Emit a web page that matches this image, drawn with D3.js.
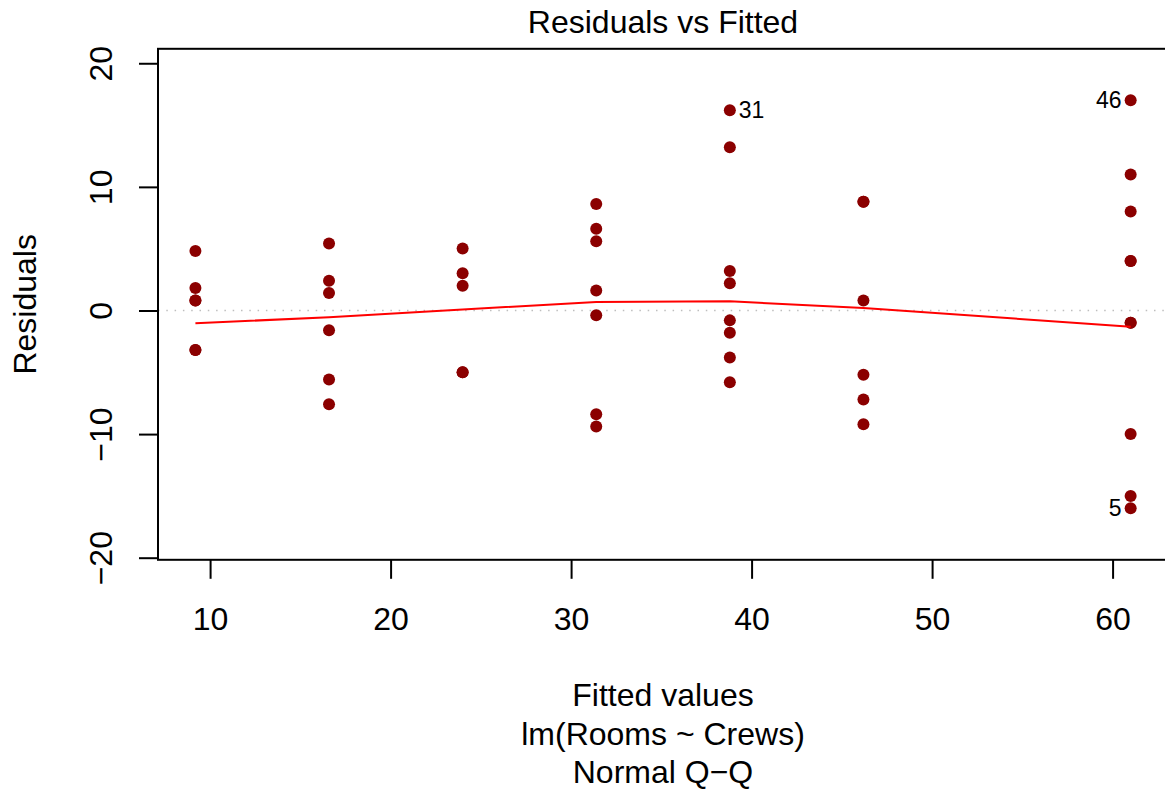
<!DOCTYPE html>
<html>
<head>
<meta charset="utf-8">
<script src="https://cdn.jsdelivr.net/npm/d3@7"></script>
<style>
  body { margin: 0; background: #fff; }
  svg { display: block; font-family: "Liberation Sans", Arial, Helvetica, sans-serif; }
</style>
</head>
<body>
<div id="chart"></div>
<script>
// fitted values of lm(Rooms ~ Crews), one per crew size
const crews = [2, 4, 6, 8, 10, 12, 16]
const fittedValues = [9.187, 16.589, 23.991, 31.393, 38.795, 46.197, 61.001]

// residuals, one array per fitted value
const residuals2 = [4.81, 1.81, 0.81, 0.81, -3.19, -3.19]
const residuals4 = [5.41, 2.41, 1.41, -1.59, -5.59, -7.59]
const residuals6 = [5.01, 3.01, 2.01, -4.99, -4.99]
const residuals8 = [8.61, 6.61, 5.61, 1.61, -0.39, -8.39, -9.39]
const residuals10 = [16.2, 13.2, 3.2, 2.2, -0.8, -1.8, -3.8, -5.8]
const residuals12 = [8.8, 8.8, 0.8, -5.2, -7.2, -9.2]
const residuals16 = [17.0, 11.0, 8.0, 4.0, 4.0, -1.0, -1.0, -10.0, -15.0, -16.0]
const residualGroups = [residuals2, residuals4, residuals6, residuals8, residuals10, residuals12, residuals16]

// lowess smooth at each fitted value
const smoothValues = [-1.04, -0.54, 0.08, 0.69, 0.74, 0.2, -1.31]

// labelled observations
const idGroup = [4, 6, 6]
const idResidual = [16.2, 17.0, -16.0]
const idText = ['31', '46', '5']
const idSide = ['right', 'left', 'left']

const xTicks = [10, 20, 30, 40, 50, 60]
const yTicks = [-20, -10, 0, 10, 20]

const width = 1165
const height = 793
const box = {left: 158, right: 1168, top: 48.8, bottom: 559.8}
const FONT = 32
const ID_FONT = 23
const POINT_COLOR = '#8b0000'

const x = d3.scaleLinear().domain([7.114, 63.07]).range([box.left, box.right])
const y = d3.scaleLinear().domain([-20.17, 21.17]).range([box.bottom, box.top])

const points = []
residualGroups.forEach((g, i) => g.forEach(r => points.push({fit: fittedValues[i], res: r})))

const svg = d3.select('#chart')
  .append('svg')
  .attr('width', width)
  .attr('height', height)

// dotted zero line
svg.append('line')
  .attr('x1', box.left).attr('x2', box.right)
  .attr('y1', y(0)).attr('y2', y(0))
  .attr('stroke', '#bebebe').attr('stroke-width', 1.5)
  .attr('stroke-dasharray', '1.5,6.8')

// points
svg.selectAll('circle.pt')
  .data(points)
  .enter()
  .append('circle')
  .attr('class', 'pt')
  .attr('cx', d => x(d.fit))
  .attr('cy', d => y(d.res))
  .attr('r', 6)
  .attr('fill', POINT_COLOR)

// smooth
const line = d3.line()
  .x((d, i) => x(fittedValues[i]))
  .y(d => y(d))

svg.append('path')
  .attr('d', line(smoothValues))
  .attr('fill', 'none')
  .attr('stroke', '#ff0000')
  .attr('stroke-width', 2)

// id labels
svg.selectAll('text.id')
  .data(idText)
  .enter()
  .append('text')
  .attr('class', 'id')
  .attr('x', (d, i) => x(fittedValues[idGroup[i]]) + (idSide[i] === 'right' ? 9 : -9))
  .attr('y', (d, i) => y(idResidual[i]) + 8)
  .attr('text-anchor', (d, i) => idSide[i] === 'right' ? 'start' : 'end')
  .attr('font-size', ID_FONT)
  .attr('fill', '#000')
  .text(d => d)

// box
svg.append('rect')
  .attr('x', box.left).attr('y', box.top)
  .attr('width', box.right - box.left).attr('height', box.bottom - box.top)
  .attr('fill', 'none').attr('stroke', '#000').attr('stroke-width', 2)

// axes
const fmt = d => d < 0 ? '\u2212' + Math.abs(d) : String(d)

svg.append('g')
  .attr('transform', `translate(0, ${box.bottom})`)
  .call(d3.axisBottom(x).tickValues(xTicks).tickSize(19).tickFormat(fmt))
  .call(g => {
    g.select('.domain').remove()
    g.selectAll('line').attr('stroke-width', 2)
    g.selectAll('text')
      .attr('y', 70).attr('dy', null)
      .attr('font-size', FONT).attr('fill', '#000')
      .attr('font-family', 'inherit')
  })

svg.append('g')
  .attr('transform', `translate(${box.left}, 0)`)
  .call(d3.axisLeft(y).tickValues(yTicks).tickSize(19).tickFormat(fmt))
  .call(g => {
    g.select('.domain').remove()
    g.selectAll('line').attr('stroke-width', 2)
    g.selectAll('text')
      .attr('x', null).attr('dy', null)
      .attr('text-anchor', 'middle')
      .attr('transform', 'translate(-46, 0) rotate(-90)')
      .attr('font-size', FONT).attr('fill', '#000')
      .attr('font-family', 'inherit')
  })

// titles
const cx = (box.left + box.right) / 2
svg.append('text')
  .attr('x', cx).attr('y', 33)
  .attr('text-anchor', 'middle').attr('font-size', FONT)
  .text('Residuals vs Fitted')

const bottomLines = ['Fitted values', 'lm(Rooms ~ Crews)', 'Normal Q\u2212Q']
svg.selectAll('text.xl')
  .data(bottomLines)
  .enter()
  .append('text')
  .attr('class', 'xl')
  .attr('x', cx)
  .attr('y', (d, i) => 706 + i * 38.5)
  .attr('text-anchor', 'middle')
  .attr('font-size', FONT)
  .text(d => d)

svg.append('text')
  .attr('transform', `translate(36, ${(box.top + box.bottom) / 2}) rotate(-90)`)
  .attr('text-anchor', 'middle')
  .attr('font-size', FONT)
  .text('Residuals')
</script>
</body>
</html>
